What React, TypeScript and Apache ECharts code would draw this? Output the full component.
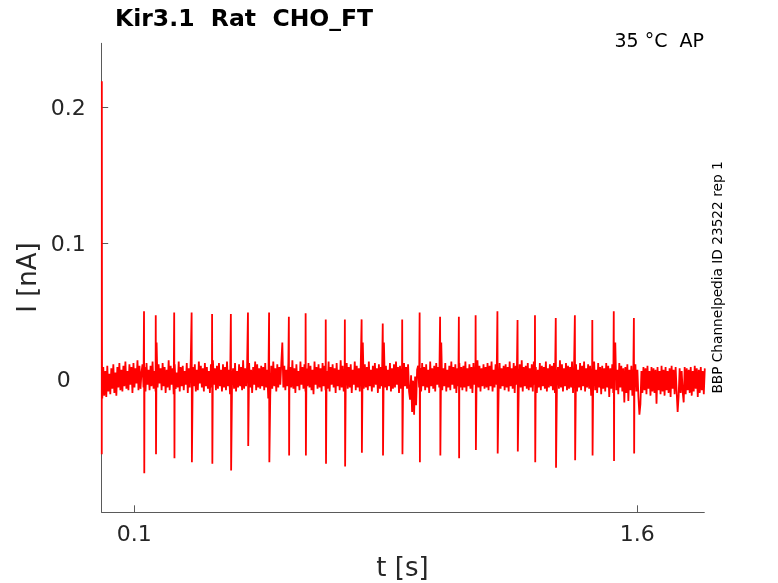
import React, { useEffect, useRef } from "react";
import * as echarts from "echarts";

const titleText = "Kir3.1  Rat  CHO_FT";
const condText = "35 °C  AP";
const idText = "BBP Channelpedia ID 23522 rep 1";
const xName = "t [s]";
const yName = "I [nA]";
const xTicks = [0.1, 1.6];
const yTicks = [0, 0.1, 0.2];

// recorded current trace (noise floor), in 1e-3 nA, one sample every 3 ms
const noiseStart = 0.0045;
const noiseStep = 0.003;
const noise = [
  -14, 9, -12, 6, -13, 10, -9, 4, -11, 8, -7, 11, -10, 5, -12, 9, -6, 12, -8, 7,
  -9, 10, -5, 13, -7, 6, -8, 11, -4, 9, -10, 12, -6, 8, -3, 14, -8, 10, -7, 5,
  11, -6, 9, -9, 12, -4, 7, -8, 10, -5, 13, -7, 6, -9, 27, -6, 11, -3, 8, -8,
  12, -5, 9, -10, 7, -6, 14, -8, 10, -4, 8, -11, 11, -7, 5, -6, 13, -9, 9, -5,
  10, -8, 6, -4, 12, -10, 8, -6, 15, -7, 9, -5, 11, -9, 7, -8, 13, -3, 10, -6,
  8, -9, 12, -5, 9, -7, 6, -10, 11, -6, 14, -4, 8, -8, 10, -7, 12, -5, 7, -9,
  11, -6, 9, -8, 13, -5, 7, -11, 10, -4, 8, -7, 12, -9, 6, -6, 11, -5, 9, -8,
  14, -7, 8, -5, 10, -9, 12, -6, 7, -10, 9, -4, 13, -8, 11, -6, 8, -7, 10, -5,
  9, -8, 12, -6, 7, -14, -24, -12, 10, -7, 13, -5, 8, -9, 11, -6, 9, -4, 12, 27,
  -6, 10, -8, 7, -5, 12, -9, 9, -6, 14, -7, 8, -10, 11, -5, 6, -8, 13, -4, 9,
  -7, 11, -9, 8, -5, 12, -6, 10, -8, 7, -11, 13, -4, 9, -7, 11, -6, 8, -9, 12,
  -5, 10, -8, 6, -7, 13, -9, 9, -4, 11, -6, 8, -10, 12, -5, 7, -8, 14, -6, 10,
  -9, 8, -5, 12, -7, 9, -6, 11, -10, 7, -4, 13, -8, 10, -6, 8, -9, 12, -5, 27,
  -7, 11, -6, 9, -8, 13, -5, 7, -9, 10, -6, 12, -4, 8, -10, 11, -7, 9, -5, 14,
  27, -6, 10, -8, 7, -5, 12, -9, 8, -7, 11, -6, 13, -4, 9, -10, 10, -7, 8, -8,
  12, -5, 9, -7, 11, -9, -15, 3, -24, -1, -26, 2, -19, 7, 10, -6, 8, -9, 12, -5,
  9, -8, 11, -6, 7, -10, 13, -5, 8, -7, 10, -9, 12, -4, 9, -6, 11, 27, -8, 8,
  -5, 12, -9, 7, -6, 10, -8, 13, -4, 9, -7, 11, -10, 8, -5, 12, -6, 9, -8, 10,
  -6, 13, -9, 8, -5, 11, -7, 9, -10, 12, -4, 7, -8, 14, -6, 10, -9, 8, -5, 11,
  -7, 9, -6, 12, -8, 10, -5, 13, -9, 7, -6, 11, -4, 9, -10, 12, -7, 8, -5, 10,
  -8, 11, -6, 9, -9, 13, -5, 8, -7, 12, -10, 10, -4, 7, -8, 11, -6, 14, -9, 9,
  -5, 10, -7, 12, -8, 8, -6, 11, -9, 13, -4, 9, -10, 7, -6, 12, -8, 10, -5, 9,
  -7, 13, -9, 8, -6, 11, -5, 10, -8, 12, -10, 7, -4, 9, -7, 14, -6, 11, -9, 8,
  -5, 12, -8, 10, -7, 9, -6, 13, -10, 8, -4, 11, -9, 7, -6, 12, -8, 10, -5, 13,
  -9, 8, -6, 11, -7, 10, -12, 9, -5, 13, -8, 7, -10, 12, -6, 9, -11, 10, -7, 8,
  -9, 12, -6, 10, -13, 8, -7, 11, -10, 9, 27, -8, 7, -11, 12, -6, 10, -9, 8, -17,
  9, -10, 11, -16, 7, -8, 10, -12, 8, -6, 11, -9, 7, -13, -26, -18, 6, -10, 9, -8,
  8, -11, 10, -7, 6, -12, 9, -9, 8, -10, 7, -18, 9, -8, 6, -11, 10, -9, 7, -12,
  9, -8, 6, -10, 8, -13, 10, -7, 7, -11, 9, -9, -24, -12, 8, -10, 6, -9, -17, 9,
  -11, 8, -8, 7, -10, 9, -12, 6, -9, 10, -7, 8, -13, 7, -10, 9, -8, 6, -11, 8,
];

// onset transient (s, nA)
const transientT = [0.003, 0.0032, 0.0036, 0.004];
const transientV = [-0.055, 0.219, 0.03, -0.012];

// action-potential-clamp spikes (s, nA)
const spikeT = [
  0.129, 0.164, 0.219, 0.271, 0.332, 0.388, 0.439, 0.502, 0.561, 0.611, 0.671,
  0.728, 0.778, 0.841, 0.899, 0.951, 1.012, 1.068, 1.118, 1.183, 1.243, 1.295,
  1.357, 1.414, 1.466, 1.53, 1.59,
];
const spikeUp = [
  0.05, 0.047, 0.049, 0.049, 0.048, 0.048, 0.049, 0.049, 0.046, 0.0485, 0.044,
  0.044, 0.044, 0.041, 0.044, 0.049, 0.046, 0.046, 0.047, 0.05, 0.0435, 0.047,
  0.045, 0.047, 0.0435, 0.05, 0.045,
];
const spikeDown = [
  -0.069, -0.055, -0.058, -0.061, -0.062, -0.067, -0.049, -0.061, -0.056, -0.056,
  -0.062, -0.064, -0.054, -0.056, -0.055, -0.061, -0.056, -0.058, -0.052, -0.0545,
  -0.053, -0.061, -0.065, -0.0595, -0.056, -0.06, -0.0545,
];

const FONT = "DejaVu Sans";
const AXIS_COLOR = "#5a5a5a";
const LABEL_COLOR = "#262626";

export default function App() {
  const ref = useRef<HTMLDivElement>(null);

  useEffect(() => {
    if (!ref.current) return;
    const chart = echarts.init(ref.current, undefined, { renderer: "svg" });

    const pts: [number, number][] = [];
    transientT.forEach((t, i) => pts.push([t, transientV[i]]));
    noise.forEach((v, i) => pts.push([noiseStart + i * noiseStep, v / 1000]));
    spikeT.forEach((t, i) => {
      pts.push([t, spikeUp[i]]);
      pts.push([t + 0.0008, spikeDown[i]]);
    });
    pts.sort((a, b) => a[0] - b[0]);

    chart.setOption({
      animation: false,
      grid: {
        left: 101.7,
        right: 73.7,
        top: 43.3,
        bottom: 70.7,
        containLabel: false,
        outerBoundsMode: "none",
      },
      xAxis: {
        type: "value",
        min: 0.0028,
        max: 1.8,
        axisLine: { show: true, onZero: false, lineStyle: { color: AXIS_COLOR, width: 1 } },
        axisTick: {
          show: true,
          inside: true,
          length: 7,
          customValues: xTicks,
          lineStyle: { color: AXIS_COLOR, width: 1 },
        },
        axisLabel: {
          customValues: xTicks,
          margin: 10,
          fontSize: 22,
          color: LABEL_COLOR,
          fontFamily: FONT,
          formatter: (v: number) => String(v),
        },
        splitLine: { show: false },
      },
      yAxis: {
        type: "value",
        min: -0.0977,
        max: 0.2468,
        axisLine: { show: true, onZero: false, lineStyle: { color: AXIS_COLOR, width: 1 } },
        axisTick: {
          show: true,
          inside: true,
          length: 6.5,
          customValues: yTicks,
          lineStyle: { color: AXIS_COLOR, width: 1 },
        },
        axisLabel: {
          customValues: yTicks,
          margin: 16,
          fontSize: 22,
          color: LABEL_COLOR,
          fontFamily: FONT,
          formatter: (v: number) => (v === 0 ? "{z|0}" : String(v)),
          rich: {
            z: {
              fontSize: 22,
              color: LABEL_COLOR,
              fontFamily: FONT,
              padding: [0, 15, 0, 0],
            },
          },
        },
        splitLine: { show: false },
      },
      series: [
        {
          type: "line",
          data: pts,
          showSymbol: false,
          symbol: "none",
          lineStyle: { color: "#ff0000", width: 1.8 },
          clip: true,
        },
      ],
      graphic: [
        {
          type: "text",
          x: 115,
          y: 18,
          style: {
            text: titleText,
            fill: "#000",
            fontSize: 23.5,
            fontWeight: "bold",
            fontFamily: FONT,
            align: "left",
            verticalAlign: "middle",
            textAlign: "left",
            textVerticalAlign: "middle",
          },
        },
        {
          type: "text",
          x: 704,
          y: 40.3,
          style: {
            text: condText,
            fill: "#000",
            fontSize: 19,
            fontFamily: FONT,
            align: "right",
            verticalAlign: "middle",
            textAlign: "right",
            textVerticalAlign: "middle",
          },
        },
        {
          type: "text",
          x: 717,
          y: 277.5,
          rotation: Math.PI / 2,
          style: {
            text: idText,
            fill: "#000",
            fontSize: 13.7,
            fontFamily: FONT,
            align: "center",
            verticalAlign: "middle",
            textAlign: "center",
            textVerticalAlign: "middle",
          },
        },
        {
          type: "text",
          x: 27,
          y: 277.5,
          rotation: Math.PI / 2,
          style: {
            text: yName,
            fill: LABEL_COLOR,
            fontSize: 26,
            fontFamily: FONT,
            align: "center",
            verticalAlign: "middle",
            textAlign: "center",
            textVerticalAlign: "middle",
          },
        },
        {
          type: "text",
          x: 402.5,
          y: 567,
          style: {
            text: xName,
            fill: LABEL_COLOR,
            fontSize: 26,
            fontFamily: FONT,
            align: "center",
            verticalAlign: "middle",
            textAlign: "center",
            textVerticalAlign: "middle",
          },
        },
      ],
    });

    return () => chart.dispose();
  }, []);

  return (
    <div
      ref={ref}
      style={{ position: "fixed", left: 0, top: 0, width: 778, height: 583 }}
    />
  );
}
